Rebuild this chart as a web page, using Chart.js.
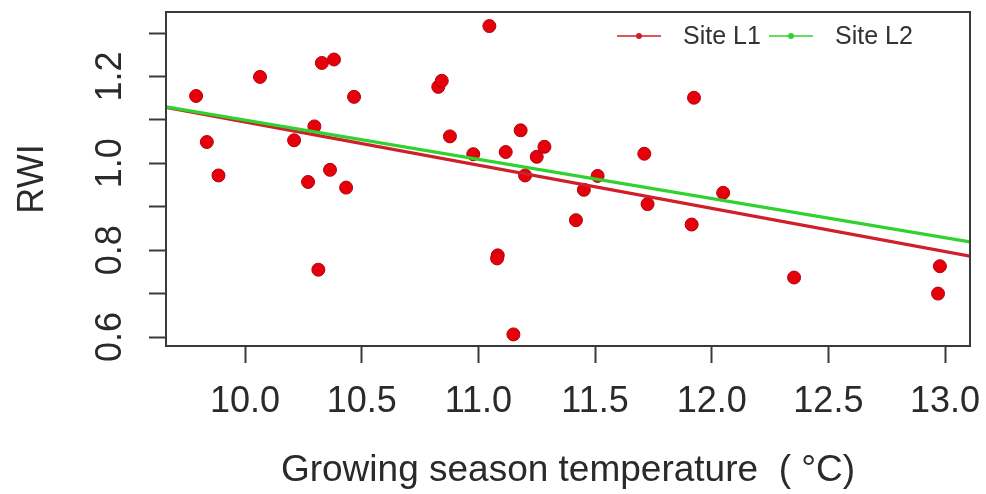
<!DOCTYPE html>
<html>
<head>
<meta charset="utf-8">
<script src="https://cdn.jsdelivr.net/npm/chart.js@4.4.1/dist/chart.umd.min.js"></script>
<style>
  html, body { margin: 0; padding: 0; background: #fff; }
</style>
</head>
<body>
<canvas id="chart" width="986" height="494"></canvas>
<script>
// growing season temperature (x) and ring width index (y), one point per year
const temps = [9.79, 9.836, 9.886, 10.064, 10.21, 10.27, 10.297, 10.314, 10.329, 10.364,
               10.381, 10.433, 10.467, 10.828, 10.843, 10.878, 10.978, 11.047, 11.083, 11.08,
               11.117, 11.15, 11.181, 11.2, 11.25, 11.283, 11.418, 11.452, 11.511, 11.711,
               11.725, 11.914, 11.924, 12.049, 12.353, 12.97, 12.978];
const rwi = [1.155, 1.049, 0.972, 1.199, 1.053, 0.957, 1.085, 0.755, 1.231, 0.985,
             1.239, 0.944, 1.153, 1.176, 1.190, 1.062, 1.021, 1.316, 0.788, 0.781,
             1.026, 0.606, 1.076, 0.972, 1.015, 1.038, 0.869, 0.939, 0.971, 1.022,
             0.906, 0.859, 1.151, 0.932, 0.737, 0.700, 0.763];

// fitted lines, ends at the axis limits
const lineX = [9.661, 13.107];
const siteL1 = [1.129, 0.786];
const siteL2 = [1.130, 0.819];

const xRange = [9.661, 13.107];
const yRange = [0.5793, 1.3484];
const yLabels = [0.6, 0.8, 1.0, 1.2];

const AXIS = '#3a3a3a';
const TEXT = '#2a2a2a';
const FONT = "'Liberation Sans', Arial, sans-serif";

const points = temps.map((t, i) => ({ x: t, y: rwi[i] }));
const toLine = ys => lineX.map((x, i) => ({ x: x, y: ys[i] }));

// box round the plot + R style legend inside top right
const boxAndLegend = {
    id: 'boxAndLegend',
    afterDraw(chart) {
        const { ctx, chartArea: a } = chart;
        ctx.save();
        ctx.strokeStyle = AXIS;
        ctx.lineWidth = 2;
        ctx.strokeRect(a.left, a.top, a.right - a.left, a.bottom - a.top);

        const items = chart.data.datasets.filter(d => d.legend);
        let x = a.right - 353;
        const y = a.top + 24;
        ctx.font = '25px ' + FONT;
        ctx.textBaseline = 'middle';
        items.forEach(d => {
            ctx.strokeStyle = d.borderColor;
            ctx.lineWidth = 1.5;
            ctx.beginPath();
            ctx.moveTo(x, y);
            ctx.lineTo(x + 44, y);
            ctx.stroke();
            ctx.fillStyle = d.borderColor;
            ctx.beginPath();
            ctx.arc(x + 22, y, 3, 0, Math.PI * 2);
            ctx.fill();
            ctx.fillStyle = '#333';
            ctx.fillText(d.label, x + 66, y + 1);
            x += 152;
        });
        ctx.restore();
    }
};

new Chart(document.getElementById('chart'), {
    type: 'scatter',
    data: {
        datasets: [
            {
                label: 'RWI',
                data: points,
                pointRadius: 6.5,
                pointBackgroundColor: '#e5000c',
                pointBorderColor: '#b3000a',
                pointBorderWidth: 1,
                order: 3
            },
            {
                label: 'Site L1',
                legend: true,
                data: toLine(siteL1),
                showLine: true,
                borderColor: '#cf1f2a',
                borderWidth: 3.2,
                pointRadius: 0,
                order: 2
            },
            {
                label: 'Site L2',
                legend: true,
                data: toLine(siteL2),
                showLine: true,
                borderColor: '#2fd22f',
                borderWidth: 3.2,
                pointRadius: 0,
                order: 1
            }
        ]
    },
    options: {
        responsive: false,
        animation: false,
        devicePixelRatio: 1,
        layout: { padding: { left: 0, right: 16, top: 12, bottom: 0 } },
        plugins: {
            legend: { display: false },
            tooltip: { enabled: false }
        },
        scales: {
            x: {
                type: 'linear',
                min: xRange[0],
                max: xRange[1],
                border: { display: false },
                grid: { drawOnChartArea: false, drawTicks: true, tickLength: 17, tickColor: AXIS, tickWidth: 2 },
                ticks: {
                    stepSize: 0.5,
                    includeBounds: false,
                    autoSkip: false,
                    maxRotation: 0,
                    padding: 17,
                    color: TEXT,
                    font: { family: FONT, size: 36 },
                    callback: v => v.toFixed(1)
                },
                title: {
                    display: true,
                    text: 'Growing season temperature  ( °C)',
                    color: TEXT,
                    font: { family: FONT, size: 37 },
                    padding: { top: 0, bottom: 1 }
                },
                afterFit: s => { s.height = 148; s.paddingLeft = 0; s.paddingRight = 0; }
            },
            y: {
                type: 'linear',
                min: yRange[0],
                max: yRange[1],
                border: { display: false },
                grid: { drawOnChartArea: false, drawTicks: true, tickLength: 17, tickColor: AXIS, tickWidth: 2 },
                ticks: {
                    stepSize: 0.1,
                    includeBounds: false,
                    autoSkip: false,
                    minRotation: 90,
                    maxRotation: 90,
                    crossAlign: 'center',
                    padding: 13,
                    color: TEXT,
                    font: { family: FONT, size: 36 },
                    callback: v => yLabels.some(l => Math.abs(l - v) < 1e-6) ? v.toFixed(1) : ''
                },
                title: {
                    display: true,
                    text: 'RWI',
                    color: TEXT,
                    font: { family: FONT, size: 36 },
                    padding: { top: 11, bottom: 0 }
                },
                afterFit: s => { s.width = 166; s.paddingTop = 0; s.paddingBottom = 0; }
            }
        }
    },
    plugins: [boxAndLegend]
});
</script>
</body>
</html>
